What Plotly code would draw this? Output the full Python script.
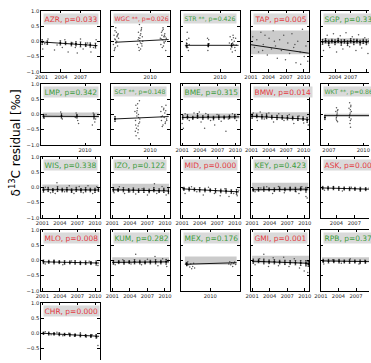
import plotly.graph_objects as go

# ---------------- data ----------------
STATIONS = ["AZR", "WGC", "STR", "TAP", "SGP",
            "LMP", "SCT", "BME", "BMW", "WKT",
            "WIS", "IZO", "MID", "KEY", "ASK",
            "MLO", "KUM", "MEX", "GMI", "RPB",
            "CHR"]
PVALS = ["0.033", "0.026", "0.426", "0.005", "0.331",
         "0.342", "0.148", "0.315", "0.014", "0.862",
         "0.338", "0.122", "0.000", "0.423", "0.000",
         "0.008", "0.282", "0.176", "0.001", "0.372",
         "0.000"]
STARS = ["", " **", " **", "", "",
         "", " **", "", "", " **",
         "", "", "", "", "",
         "", "", "", "", "",
         ""]
XMIN = [2000.95, 2008.0, 2008.0, 2001.0, 2001.3,
        2007.3, 2008.0, 2000.8, 2000.9, 2006.3,
        2000.8, 2000.8, 2000.8, 2000.8, 2001.4,
        2000.8, 2000.8, 2008.5, 2000.8, 2001.0,
        2000.8]
XMAX = [2009.95, 2011.0, 2011.0, 2011.0, 2012.5,
        2010.9, 2011.0, 2010.7, 2011.0, 2011.4,
        2010.8, 2010.8, 2010.8, 2010.8, 2011.2,
        2010.8, 2010.8, 2011.5, 2010.8, 2011.0,
        2010.8]
XTICKS = [[2001, 2004, 2007], [2010], [2010], [2001, 2004, 2007, 2010], [2004, 2007, 2010],
          [2010], [2010], [2001, 2004, 2007, 2010], [2001, 2004, 2007, 2010], [2007, 2010],
          [2001, 2004, 2007, 2010], [2001, 2004, 2007, 2010], [2001, 2004, 2007, 2010],
          [2001, 2004, 2007, 2010], [2004, 2007, 2010],
          [2001, 2004, 2007, 2010], [2001, 2004, 2007, 2010], [2010],
          [2001, 2004, 2007, 2010], [2001, 2004, 2007, 2010],
          [2001, 2004, 2007, 2010]]
TREND_X0 = [2001.0, 2008.2, 2008.2, 2001.0, 2001.5,
            2007.4, 2008.15, 2001.0, 2001.0, 2006.6,
            2001.0, 2001.0, 2001.0, 2001.0, 2001.5,
            2001.0, 2001.0, 2008.7, 2001.0, 2001.2,
            2001.0]
TREND_X1 = [2009.6, 2010.95, 2010.95, 2010.9, 2012.5,
            2010.85, 2010.95, 2010.7, 2010.9, 2011.4,
            2010.6, 2010.7, 2010.7, 2010.6, 2011.2,
            2010.7, 2010.7, 2011.35, 2010.7, 2011.0,
            2010.7]
TREND_Y0 = [-0.02, -0.03, -0.13, -0.11, -0.01,
            -0.06, -0.15, -0.10, -0.06, -0.04,
            -0.08, -0.08, -0.05, -0.08, -0.02,
            -0.05, -0.07, -0.13, -0.03, -0.02,
            0.0]
TREND_Y1 = [-0.14, 0.06, -0.13, -0.39, -0.01,
            -0.07, -0.07, -0.08, -0.16, -0.04,
            -0.09, -0.12, -0.15, -0.06, -0.07,
            -0.09, -0.05, -0.08, -0.10, -0.05,
            -0.10]
BAND_LO = [None, None, None, -0.42, -0.08,
           -0.10, None, -0.13, -0.10, -0.07,
           -0.10, -0.12, None, -0.12, None,
           None, -0.10, -0.15, -0.10, -0.05,
           None]
BAND_HI = [None, None, None, 0.36, 0.10,
           0.06, None, 0.03, 0.07, 0.02,
           0.09, 0.12, None, 0.15, None,
           None, 0.10, 0.12, 0.15, 0.10,
           None]

# annual means: (year, mean, error)
AZR_means = [(2001.1, -0.02, 0.08), (2001.9, -0.04, 0.06), (2003.9, -0.05, 0.07), (2004.7, -0.06, 0.05),
             (2005.6, -0.09, 0.06), (2006.3, -0.08, 0.07), (2007.0, -0.10, 0.08), (2007.8, -0.11, 0.06),
             (2008.5, -0.12, 0.07), (2009.3, -0.14, 0.08)]
AZR_pts = [(2001.2, -0.25), (2001.5, -0.08), (2002.0, 0.08), (2003.0, -0.28), (2003.4, -0.12), (2004.2, -0.20),
           (2004.6, 0.05), (2005.1, -0.35), (2005.8, -0.05), (2006.2, -0.20), (2006.5, -0.38), (2007.0, 0.08),
           (2007.4, -0.25), (2008.1, -0.05), (2008.6, -0.35), (2009.0, -0.20), (2009.4, 0.05)]

WGC_means = []
WGC_pts = [(2008.12, -0.10), (2008.15, 0.20), (2008.18, -0.25), (2008.20, 0.35), (2008.22, 0.05), (2008.25, -0.05),
           (2008.27, 0.30), (2008.30, 0.15), (2008.33, -0.15), (2008.36, 0.25), (2008.38, 0.10), (2008.16, -0.30),
           (2008.24, 0.45), (2008.29, 0.00), (2008.34, 0.22), (2008.21, -0.20), (2008.31, 0.18), (2008.19, 0.08),
           (2009.35, -0.10), (2009.38, 0.05), (2009.40, 0.30), (2009.42, -0.20), (2009.45, 0.55), (2009.47, 0.10),
           (2009.50, -0.05), (2009.52, 0.25), (2009.55, 0.40), (2009.58, -0.15), (2009.60, 0.15), (2009.62, 0.00),
           (2009.44, -0.30), (2009.49, 0.20), (2009.53, 0.35), (2009.57, -0.08), (2009.41, 0.12), (2009.46, 0.02),
           (2009.51, -0.25), (2009.56, 0.45),
           (2010.52, 0.10), (2010.55, -0.10), (2010.58, 0.30), (2010.60, 0.20), (2010.62, -0.20), (2010.65, 0.05),
           (2010.67, 0.40), (2010.70, 0.15), (2010.72, -0.05), (2010.75, 0.25), (2010.78, 0.00), (2010.80, -0.30),
           (2010.83, 0.10), (2010.63, 0.35), (2010.68, -0.15), (2010.73, 0.20), (2010.57, 0.08), (2010.66, 0.45),
           (2010.71, -0.02), (2010.76, 0.15)]

STR_means = [(2008.30, -0.14, 0.07), (2009.40, -0.12, 0.05), (2010.60, -0.13, 0.06)]
STR_pts = [(2008.28, -0.05), (2008.32, 0.30), (2008.35, -0.20), (2008.40, 0.10), (2008.38, -0.30), (2008.30, 0.05),
           (2008.42, -0.10), (2008.26, -0.18), (2009.38, -0.30), (2009.42, 0.05), (2009.40, -0.18), (2009.36, 0.10),
           (2009.44, -0.08), (2010.48, -0.05), (2010.52, 0.15), (2010.55, -0.25), (2010.60, 0.05), (2010.63, -0.35),
           (2010.67, 0.20), (2010.70, -0.10), (2010.73, 0.00), (2010.76, -0.20), (2010.80, 0.10), (2010.58, -0.15),
           (2010.65, -0.05), (2010.69, 0.12), (2010.78, -0.30), (2010.83, -0.12)]

TAP_means = []
TAP_pts = [(2001.3, 0.15), (2001.6, -0.20), (2002.0, 0.05), (2002.3, -0.35), (2002.7, 0.30), (2003.1, -0.10),
           (2003.4, 0.20), (2003.8, -0.45), (2004.1, 0.10), (2004.5, -0.25), (2004.8, 0.35), (2005.2, -0.15),
           (2005.5, -0.55), (2005.9, 0.05), (2006.2, -0.30), (2006.6, 0.20), (2006.9, -0.60), (2007.3, -0.05),
           (2007.6, -0.40), (2008.0, 0.25), (2008.3, -0.20), (2008.7, -0.70), (2009.0, 0.00), (2009.4, -0.35),
           (2009.8, 0.40), (2010.1, -0.50), (2010.4, -0.15), (2010.7, -0.65), (2008.5, -0.10), (2005.0, 0.00),
           (2003.0, -0.30), (2009.5, -0.75)]

SGP_means = [(2001.6, -0.02, 0.08), (2002.2, 0.02, 0.07), (2002.8, -0.05, 0.09), (2003.4, 0.01, 0.06),
             (2004.0, -0.03, 0.08), (2004.6, 0.03, 0.07), (2005.2, -0.04, 0.09), (2005.8, 0.00, 0.06),
             (2006.4, -0.06, 0.08), (2007.0, 0.02, 0.07), (2007.6, -0.02, 0.09), (2008.2, 0.01, 0.06),
             (2008.8, -0.04, 0.08), (2009.4, 0.00, 0.07), (2010.0, -0.03, 0.08), (2010.6, 0.02, 0.07),
             (2011.2, -0.01, 0.06), (2011.8, -0.03, 0.08)]
SGP_pts = [(2001.8, -0.30), (2002.5, 0.20), (2003.0, -0.20), (2003.7, 0.25), (2004.3, -0.35), (2005.0, 0.18),
           (2005.5, -0.25), (2006.1, 0.28), (2006.8, -0.18), (2007.3, 0.15), (2008.0, -0.30), (2008.5, 0.22),
           (2009.1, -0.22), (2009.7, 0.12), (2010.3, -0.40), (2010.9, 0.20), (2011.5, -0.20), (2012.0, 0.10)]

LMP_means = [(2007.45, -0.06, 0.06), (2008.55, -0.05, 0.07), (2009.50, -0.06, 0.06), (2010.55, -0.07, 0.08)]
LMP_pts = [(2007.50, -0.12), (2007.60, 0.00), (2008.50, 0.08), (2008.60, -0.15), (2009.45, 0.05), (2009.55, -0.20),
           (2009.60, -0.30), (2010.50, 0.05), (2010.60, -0.25), (2010.65, -0.15), (2009.40, -0.10), (2010.45, -0.35)]

SCT_means = [(2008.20, -0.15, 0.08)]
SCT_pts = [(2009.22, 0.10), (2009.25, -0.20), (2009.27, 0.30), (2009.30, -0.45), (2009.32, -0.05), (2009.35, 0.20),
           (2009.37, -0.60), (2009.40, 0.00), (2009.42, -0.30), (2009.45, 0.45), (2009.47, -0.15), (2009.28, -0.70),
           (2009.33, 0.12), (2009.38, -0.38), (2009.43, -0.80), (2009.24, -0.55), (2009.36, 0.35), (2009.41, -0.10),
           (2009.46, -0.25), (2009.31, 0.05), (2009.39, -0.50), (2009.26, -0.35),
           (2010.55, 0.10), (2010.58, -0.20), (2010.60, 0.25), (2010.63, -0.05), (2010.66, -0.35), (2010.69, 0.15),
           (2010.72, -0.10), (2010.75, 0.05), (2010.78, -0.25), (2010.81, 0.30), (2010.84, -0.15), (2010.87, 0.00),
           (2010.62, -0.40), (2010.70, 0.20), (2010.77, -0.30), (2010.80, 0.12), (2010.57, -0.08), (2010.85, -0.20)]

BME_means = [(2001.1, -0.10, 0.06), (2001.9, -0.08, 0.07), (2002.8, -0.11, 0.05), (2003.6, -0.05, 0.08),
             (2004.5, -0.10, 0.06), (2005.4, -0.08, 0.07), (2006.3, -0.12, 0.06), (2007.2, -0.09, 0.07),
             (2008.1, -0.10, 0.05), (2009.0, -0.08, 0.06), (2009.9, -0.07, 0.07)]
BME_pts = [(2001.0, -0.30), (2001.5, 0.02), (2002.2, -0.20), (2003.0, 0.05), (2003.9, 0.08), (2004.2, -0.25),
           (2004.8, -0.45), (2005.0, 0.03), (2005.8, -0.20), (2006.5, -0.35), (2006.9, 0.00), (2007.6, -0.22),
           (2008.4, -0.55), (2008.8, -0.15), (2009.5, 0.02), (2010.2, -0.20), (2001.2, -0.45)]

BMW_means = [(2001.1, -0.06, 0.07), (2001.9, -0.05, 0.06), (2002.8, -0.08, 0.07), (2003.6, -0.06, 0.08),
             (2004.5, -0.09, 0.06), (2005.4, -0.10, 0.07), (2006.3, -0.10, 0.06), (2007.2, -0.11, 0.07),
             (2008.1, -0.12, 0.06), (2009.0, -0.13, 0.07), (2009.9, -0.14, 0.06), (2010.6, -0.18, 0.08)]
BMW_pts = [(2001.3, 0.05), (2002.0, -0.20), (2002.5, 0.08), (2003.2, -0.15), (2004.0, 0.05), (2004.8, -0.25),
           (2005.7, 0.02), (2006.6, -0.20), (2007.5, 0.00), (2008.3, -0.30), (2009.2, -0.05), (2010.0, -0.28),
           (2010.8, -0.35)]

WKT_means = [(2006.65, -0.10, 0.07)]
WKT_pts = [(2007.60, 0.10), (2007.63, -0.15), (2007.66, 0.22), (2007.69, -0.05), (2007.72, 0.05), (2007.75, -0.24),
           (2007.78, 0.15), (2007.65, -0.10), (2007.70, 0.00), (2007.74, 0.12), (2007.68, -0.20),
           (2008.75, 0.20), (2008.78, -0.10), (2008.80, 0.38), (2008.83, -0.30), (2008.85, 0.05), (2008.88, -0.42),
           (2008.90, 0.25), (2008.93, -0.15), (2008.95, 0.10), (2008.82, 0.00), (2008.87, -0.20), (2008.91, 0.30),
           (2008.79, -0.05), (2008.86, 0.15)]

WIS_means = [(2001.2, -0.10, 0.06), (2002.0, -0.07, 0.07), (2002.8, -0.10, 0.06), (2003.6, -0.06, 0.08),
             (2004.4, -0.09, 0.06), (2005.2, -0.08, 0.07), (2006.0, -0.11, 0.06), (2006.8, -0.07, 0.07),
             (2007.6, -0.10, 0.06), (2008.4, -0.08, 0.07), (2009.2, -0.09, 0.06), (2010.0, -0.10, 0.07),
             (2010.6, -0.08, 0.06)]
WIS_pts = [(2001.5, 0.00), (2003.2, -0.20), (2003.5, 0.15), (2004.8, -0.15), (2005.6, 0.05), (2006.4, -0.20),
           (2007.3, 0.03), (2008.0, -0.18), (2008.8, 0.05), (2009.6, -0.20), (2010.3, 0.02), (2002.4, -0.18)]

IZO_means = [(2001.2, -0.08, 0.06), (2002.0, -0.09, 0.05), (2002.9, -0.08, 0.07), (2003.8, -0.10, 0.06),
             (2004.6, -0.09, 0.07), (2005.5, -0.11, 0.06), (2006.4, -0.10, 0.07), (2007.3, -0.12, 0.06),
             (2008.1, -0.08, 0.07), (2009.0, -0.11, 0.06), (2009.8, -0.10, 0.07), (2010.6, -0.13, 0.08)]
IZO_pts = [(2001.3, -0.18), (2002.2, 0.02), (2003.1, -0.20), (2004.0, -0.15), (2005.0, -0.22), (2006.1, -0.05),
           (2007.0, -0.25), (2008.2, 0.12), (2008.6, -0.20), (2009.5, 0.03), (2010.2, -0.25), (2010.6, -0.18)]

MID_means = [(2001.3, -0.05, 0.05), (2002.2, -0.06, 0.06), (2003.1, -0.07, 0.05), (2004.0, -0.08, 0.07),
             (2004.9, -0.09, 0.06), (2005.8, -0.10, 0.05), (2006.7, -0.11, 0.07), (2007.6, -0.12, 0.06),
             (2008.5, -0.12, 0.07), (2009.4, -0.14, 0.06), (2010.3, -0.15, 0.08)]
MID_pts = [(2001.5, -0.20), (2002.6, 0.02), (2003.5, -0.15), (2004.6, -0.25), (2005.5, 0.00), (2006.5, -0.20),
           (2007.5, -0.28), (2008.3, -0.05), (2009.0, -0.30), (2009.8, -0.20), (2010.4, -0.28), (2010.7, -0.10)]

KEY_means = [(2001.2, -0.08, 0.05), (2002.1, -0.07, 0.06), (2003.0, -0.06, 0.07), (2003.9, -0.07, 0.05),
             (2004.8, -0.08, 0.06), (2005.7, -0.06, 0.07), (2006.6, -0.07, 0.05), (2007.5, -0.06, 0.06),
             (2008.4, -0.07, 0.07), (2009.3, -0.05, 0.06), (2010.2, -0.08, 0.08)]
KEY_pts = [(2001.5, -0.15), (2002.5, -0.02), (2003.5, 0.02), (2004.5, -0.20), (2005.5, 0.03), (2006.5, -0.18),
           (2007.5, 0.00), (2008.5, -0.15), (2009.5, 0.02), (2010.2, -0.30), (2010.4, -0.35), (2009.0, -0.20)]

ASK_means = [(2001.7, -0.02, 0.05), (2002.6, -0.03, 0.06), (2003.5, -0.03, 0.05), (2004.4, -0.04, 0.06),
             (2005.3, -0.04, 0.05), (2006.2, -0.05, 0.06), (2007.1, -0.05, 0.05), (2008.0, -0.06, 0.06),
             (2008.9, -0.06, 0.05), (2009.8, -0.07, 0.06), (2010.7, -0.07, 0.05)]
ASK_pts = [(2002.0, -0.10), (2003.5, 0.03), (2005.0, -0.12), (2006.5, 0.00), (2008.0, -0.12), (2009.5, -0.02)]

MLO_means = [(2001.2, -0.05, 0.06), (2002.1, -0.05, 0.05), (2003.0, -0.06, 0.06), (2003.9, -0.06, 0.05),
             (2004.8, -0.07, 0.06), (2005.7, -0.07, 0.05), (2006.6, -0.07, 0.06), (2007.5, -0.08, 0.05),
             (2008.4, -0.08, 0.06), (2009.3, -0.09, 0.05), (2010.2, -0.09, 0.07)]
MLO_pts = [(2001.5, -0.12), (2003.0, 0.00), (2004.5, -0.15), (2006.0, -0.02), (2007.5, -0.14), (2009.0, -0.03),
           (2010.5, -0.17)]

KUM_means = [(2001.2, -0.07, 0.06), (2002.1, -0.06, 0.05), (2003.0, -0.07, 0.06), (2003.9, -0.06, 0.05),
             (2004.8, -0.05, 0.07), (2005.7, -0.06, 0.06), (2006.6, -0.07, 0.05), (2007.5, -0.06, 0.06),
             (2008.4, -0.05, 0.07), (2009.3, -0.06, 0.06), (2010.2, -0.05, 0.08)]
KUM_pts = [(2001.5, -0.15), (2002.8, 0.02), (2004.2, -0.12), (2005.0, 0.20), (2006.0, -0.15), (2007.0, 0.03),
           (2008.3, 0.12), (2008.8, -0.18), (2009.6, 0.05), (2010.3, -0.20), (2010.6, 0.00)]

MEX_means = [(2008.80, -0.12, 0.05)]
MEX_pts = [(2008.75, -0.10), (2008.80, -0.18), (2008.85, -0.05), (2008.90, -0.15), (2008.95, -0.22), (2009.00, -0.12),
           (2009.05, -0.28), (2009.10, -0.20), (2009.15, -0.10), (2009.20, -0.25), (2010.95, -0.12), (2011.00, -0.05),
           (2011.05, -0.15), (2011.10, -0.08), (2011.15, -0.20), (2011.20, -0.10), (2011.25, -0.06), (2011.30, -0.14)]

GMI_means = [(2001.2, -0.03, 0.07), (2002.1, -0.02, 0.06), (2003.0, -0.04, 0.08), (2003.9, -0.05, 0.06),
             (2004.8, -0.05, 0.07), (2005.7, -0.06, 0.06), (2006.6, -0.07, 0.07), (2007.5, -0.07, 0.06),
             (2008.4, -0.08, 0.07), (2009.3, -0.09, 0.08), (2010.2, -0.10, 0.09), (2010.6, -0.12, 0.08)]
GMI_pts = [(2001.5, -0.15), (2002.3, 0.05), (2003.0, 0.20), (2003.8, -0.20), (2004.6, 0.08), (2005.5, -0.18),
           (2006.4, 0.10), (2007.3, -0.20), (2008.2, 0.05), (2009.1, -0.25), (2009.9, -0.35), (2010.5, -0.40),
           (2010.2, -0.15)]

RPB_means = [(2001.4, -0.02, 0.05), (2002.3, -0.03, 0.06), (2003.2, -0.03, 0.05), (2004.1, -0.03, 0.06),
             (2005.0, -0.04, 0.05), (2005.9, -0.04, 0.06), (2006.8, -0.04, 0.05), (2007.7, -0.05, 0.06),
             (2008.6, -0.05, 0.05), (2009.5, -0.05, 0.06)]
RPB_pts = [(2001.5, -0.12), (2003.0, 0.02), (2004.5, -0.10), (2006.0, 0.05), (2007.5, -0.12), (2008.5, 0.00)]

CHR_means = [(2001.2, 0.00, 0.04), (2002.1, -0.01, 0.05), (2003.0, -0.02, 0.04), (2003.9, -0.03, 0.05),
             (2004.8, -0.04, 0.04), (2005.7, -0.05, 0.05), (2006.6, -0.06, 0.04), (2007.5, -0.07, 0.05),
             (2008.4, -0.08, 0.04), (2009.3, -0.09, 0.05), (2010.2, -0.10, 0.06)]
CHR_pts = [(2001.5, 0.05), (2002.5, -0.05), (2003.5, 0.03), (2004.5, -0.08), (2005.5, 0.00), (2006.5, -0.10),
           (2007.5, 0.02), (2008.5, -0.12), (2009.5, -0.05), (2010.3, -0.15), (2010.5, -0.40)]

MEANS = [AZR_means, WGC_means, STR_means, TAP_means, SGP_means,
         LMP_means, SCT_means, BME_means, BMW_means, WKT_means,
         WIS_means, IZO_means, MID_means, KEY_means, ASK_means,
         MLO_means, KUM_means, MEX_means, GMI_means, RPB_means,
         CHR_means]
POINTS = [AZR_pts, WGC_pts, STR_pts, TAP_pts, SGP_pts,
          LMP_pts, SCT_pts, BME_pts, BMW_pts, WKT_pts,
          WIS_pts, IZO_pts, MID_pts, KEY_pts, ASK_pts,
          MLO_pts, KUM_pts, MEX_pts, GMI_pts, RPB_pts,
          CHR_pts]

YTICKS = [-1.0, -0.5, 0.0, 0.5, 1.0]
YTICKTEXT = ["\u22121.0", "\u22120.5", "0.0", "0.5", "1.0"]

# ---------------- layout geometry ----------------
W, H = 371, 363
COL_LEFT = [35.0, 106.7, 178.3, 250.0, 321.7]
ROW_TOP = [8.0, 82.3, 156.4, 230.6, 304.8]
PW, PH = 60.0, 62.0
RED = "#e3393f"
GREEN = "#3c9c3c"
BOXGRAY = "#dadada"
BANDGRAY = "#cbcbcb"
FONT = "DejaVu Sans"

fig = go.Figure()
layout = dict(
    width=W, height=H,
    margin=dict(l=0, r=0, t=0, b=0),
    paper_bgcolor="white", plot_bgcolor="white",
    showlegend=False,
    font=dict(family=FONT, size=5, color="#222222"),
)
annotations = []

for k, st in enumerate(STATIONS):
    row, col = divmod(k, 5)
    ax = "" if k == 0 else str(k + 1)
    left = COL_LEFT[col]
    right = left + PW
    x0, x1 = XMIN[k], XMAX[k]
    ycut = False
    xcut = False
    if right > W:
        frac = (W - left) / PW
        x1 = x0 + (x1 - x0) * frac
        right = W
        xcut = True
    top = ROW_TOP[row]
    bottom = top + PH
    y0, y1 = -1.0, 1.0
    if bottom > H:
        frac = (H - top) / PH
        y0 = 1.0 - 2.0 * frac
        bottom = H
        ycut = True

    xaxis = dict(
        domain=[left / W, right / W], range=[x0, x1], anchor="y" + ax,
        showgrid=False, zeroline=False, showline=True, linecolor="black", linewidth=0.8,
        ticks="inside", ticklen=2.5, tickwidth=0.6, tickcolor="black",
        mirror=False if ycut else "ticks",
        side="top" if ycut else "bottom",
        showticklabels=not ycut,
        tickvals=XTICKS[k], ticktext=[str(t) for t in XTICKS[k]],
        tickfont=dict(size=5.2, color="#222222", family=FONT),
    )
    yaxis = dict(
        domain=[1 - bottom / H, 1 - top / H], range=[y0, y1], anchor="x" + ax,
        showgrid=False, zeroline=False, showline=True, linecolor="black", linewidth=0.8,
        ticks="inside", ticklen=2.5, tickwidth=0.6, tickcolor="black",
        mirror=False if xcut else "ticks",
        tickvals=YTICKS, ticktext=YTICKTEXT, showticklabels=(col == 0),
        tickfont=dict(size=5.2, color="#222222", family=FONT),
    )
    layout["xaxis" + ax] = xaxis
    layout["yaxis" + ax] = yaxis
    xr, yr = "x" + ax, "y" + ax

    # confidence band
    if BAND_LO[k] is not None:
        fig.add_trace(go.Scatter(
            x=[TREND_X0[k], TREND_X1[k], TREND_X1[k], TREND_X0[k]],
            y=[BAND_LO[k], BAND_LO[k], BAND_HI[k], BAND_HI[k]],
            fill="toself", fillcolor=BANDGRAY, line=dict(width=0), mode="lines",
            hoverinfo="skip", xaxis=xr, yaxis=yr))
    # individual residuals
    pts = POINTS[k]
    fig.add_trace(go.Scatter(
        x=[p[0] for p in pts], y=[p[1] for p in pts], mode="markers",
        marker=dict(size=1.5, color="#555555", line=dict(width=0)),
        xaxis=xr, yaxis=yr))
    # trend line
    fig.add_trace(go.Scatter(
        x=[TREND_X0[k], TREND_X1[k]], y=[TREND_Y0[k], TREND_Y1[k]], mode="lines",
        line=dict(color="black", width=0.9), xaxis=xr, yaxis=yr))
    # annual means with error bars
    ms = MEANS[k]
    if ms:
        fig.add_trace(go.Scatter(
            x=[m[0] for m in ms], y=[m[1] for m in ms], mode="markers",
            marker=dict(size=2, color="black"),
            error_y=dict(type="data", array=[m[2] for m in ms], visible=True,
                         thickness=0.7, width=0.8, color="black"),
            xaxis=xr, yaxis=yr))

    # label box
    sig = float(PVALS[k]) < 0.05
    annotations.append(dict(
        x=(left + 2) / W, y=1 - (top + 2.5) / H, xref="paper", yref="paper",
        xanchor="left", yanchor="top", showarrow=False,
        text=f"{st}{STARS[k]}, p={PVALS[k]}",
        font=dict(family=FONT, size=6.2 if STARS[k] else 7.5, color=RED if sig else GREEN),
        bgcolor=BOXGRAY, borderpad=0.5,
    ))

annotations.append(dict(
    x=8 / W, y=1 - 142 / H, xref="paper", yref="paper", showarrow=False,
    text="\u03b4<sup>13</sup>C residual [\u2030]", textangle=-90,
    font=dict(family=FONT, size=12, color="black"),
    xanchor="center", yanchor="middle",
))
layout["annotations"] = annotations
fig.update_layout(**layout)
fig.write_html("out.html")
